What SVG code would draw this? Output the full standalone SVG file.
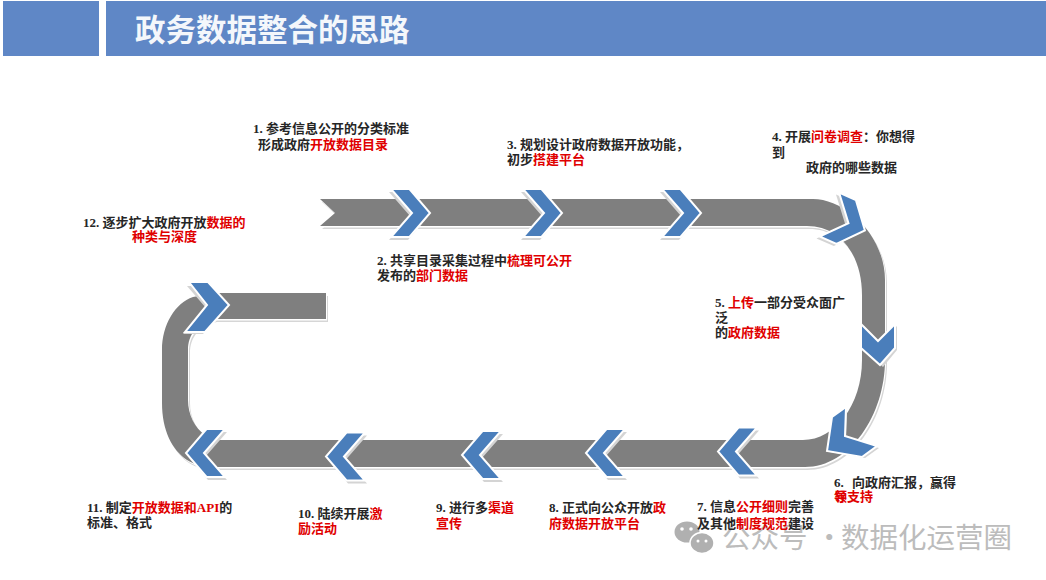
<svg xmlns="http://www.w3.org/2000/svg" width="1046" height="580" viewBox="0 0 1046 580">
<style>
.hdr{fill:#5f87c6}
.title{font:bold 30.5px "Noto Sans CJK SC","Liberation Serif",serif;fill:#f4f7fb}
.t{font-family:"Liberation Serif","Noto Sans CJK SC",serif;font-size:13px;font-weight:bold;fill:#262626}
.r{fill:#e00000}
.wm{font:28.500px "Noto Sans CJK SC","Liberation Sans",sans-serif;fill:#bcbcbc}
.ch{fill:#4a7ebb;stroke:#fff;stroke-width:2;stroke-linejoin:miter}
.sh{fill:#d4d4d4}
</style>
<defs>
<path id="road" d="M320 199H813C845 199 885 235 885 280V360C885 415 850 467 805 467H215C205 467 195 465 187 460C172 450 162 430 162 403V350C162 325 175 303 193 297L215 293H326V319H215C197 322 188 335 188 350V400C188 415 195 428 205 435L212 440H803C835 440 862 405 862 360V295C862 255 840 226 807 226H320L335 213Z"/>
<g id="c"><polygon class="sh" points="-40,-21 -21,-21 -1,3 -21,27 -40,27 -19,3"/><polygon class="ch" points="-38,-24 -19.500,-24 1,0 -19.500,24 -38,24 -17,0"/></g>
</defs>
<rect id="header-left" class="hdr" x="3" y="1" width="96" height="55"/>
<rect id="header-main" class="hdr" x="106" y="1" width="940" height="55"/>
<text id="title" class="title" x="135" y="41">政务数据整合的思路</text>

<g id="connectors">
<use href="#road" fill="#d6d6d6" transform="translate(2,3)"/>
<use href="#road" fill="#fff" transform="translate(1,1.500)"/>
<use href="#road" fill="#7f7f7f"/>
</g>

<g id="watermark">
<ellipse cx="687" cy="532" rx="12.500" ry="10.500" fill="#b0b0b0"/>
<ellipse cx="702" cy="543" rx="12" ry="10.500" fill="#b0b0b0" stroke="#fff" stroke-width="1.500"/>
<circle cx="682" cy="529" r="1.800" fill="#fff"/><circle cx="691" cy="529" r="1.800" fill="#fff"/>
<circle cx="698" cy="541" r="1.500" fill="#fff"/><circle cx="706" cy="541" r="1.500" fill="#fff"/>
<text class="wm" x="722" y="548">公众号</text><text class="wm" x="815" y="548">·</text><text class="wm" x="841" y="548">数据化运营圈</text>
</g>

<g id="chevron-1"><use href="#c" transform="translate(429,213)"/></g>
<g id="chevron-2"><use href="#c" transform="translate(561,213)"/></g>
<g id="chevron-3"><use href="#c" transform="translate(700,213)"/></g>
<g id="chevron-4"><use href="#c" transform="translate(864,230) rotate(24)"/></g>
<g id="chevron-5"><polygon class="sh" points="864,326 880,343 897,326 897,350 883,367 864,350"/><polygon class="ch" points="861,324 878,341 895,324 895,348 880,365 861,348"/></g>
<g id="chevron-6"><polygon class="sh" points="847,410 846,439 879,448 865,458 830,452 835,420"/><polygon class="ch" points="846,407 845,436 877,446 862,457 827,451 832,417"/></g>
<g id="chevron-7"><use href="#c" transform="translate(719,451.500) scale(-1,1)"/></g>
<g id="chevron-8"><use href="#c" transform="translate(587,453) scale(-1,1)"/></g>
<g id="chevron-9"><use href="#c" transform="translate(463,455) scale(-1,1)"/></g>
<g id="chevron-10"><use href="#c" transform="translate(327,456.500) scale(-1,1)"/></g>
<g id="chevron-11"><use href="#c" transform="translate(187,453) scale(-1,1)"/></g>
<g id="chevron-12"><polygon class="sh" points="187,286 206,286 226,308 203,334 183,334 206,308"/><polygon class="ch" points="189,282 208,282 229,305 205,332 185,332 207,305"/></g>

<g id="label-1"><text class="t" x="253" y="133">1. 参考信息公开的分类标准</text><text class="t" x="258" y="149">形成政府<tspan class="r">开放数据目录</tspan></text></g>
<g id="label-2"><text class="t" x="377" y="265">2. 共享目录采集过程中<tspan class="r">梳理可公开</tspan></text><text class="t" x="377" y="280">发布的<tspan class="r">部门数据</tspan></text></g>
<g id="label-3"><text class="t" x="507" y="149">3. 规划设计政府数据开放功能，</text><text class="t" x="507" y="164">初步<tspan class="r">搭建平台</tspan></text></g>
<g id="label-4"><text class="t" x="772" y="141">4. 开展<tspan class="r">问卷调查</tspan>：你想得</text><text class="t" x="772" y="157">到</text><text class="t" x="806" y="172">政府的哪些数据</text></g>
<g id="label-5"><text class="t" x="715" y="307">5. <tspan class="r">上传</tspan>一部分受众面广</text><text class="t" x="715" y="322">泛</text><text class="t" x="715" y="337">的<tspan class="r">政府数据</tspan></text></g>
<g id="label-6"><text class="t" x="834" y="487">6.<tspan x="852">向政府汇报，赢得</tspan></text><text class="t r" x="834" y="501">领<tspan dx="-13">导</tspan>支持</text></g>
<g id="label-7"><text class="t" x="697" y="511">7. 信息<tspan class="r">公开细则</tspan>完善</text><text class="t" x="697" y="528">及其他<tspan class="r">制度规范</tspan>建设</text></g>
<g id="label-8"><text class="t" x="549" y="512">8. 正式向公众开放<tspan class="r">政</tspan></text><text class="t r" x="549" y="528">府数据开放平台</text></g>
<g id="label-9"><text class="t" x="436" y="512">9. 进行多<tspan class="r">渠道</tspan></text><text class="t r" x="436" y="528">宣传</text></g>
<g id="label-10"><text class="t" x="298" y="518">10. 陆续开展<tspan class="r">激</tspan></text><text class="t r" x="298" y="533">励活动</text></g>
<g id="label-11"><text class="t" x="87" y="512">11. 制定<tspan class="r">开放数据和API</tspan>的</text><text class="t" x="87" y="527">标准、格式</text></g>
<g id="label-12"><text class="t" x="83" y="227">12. 逐步扩大政府开放<tspan class="r">数据的</tspan></text><text class="t r" x="132" y="241">种类与深度</text></g>
</svg>
